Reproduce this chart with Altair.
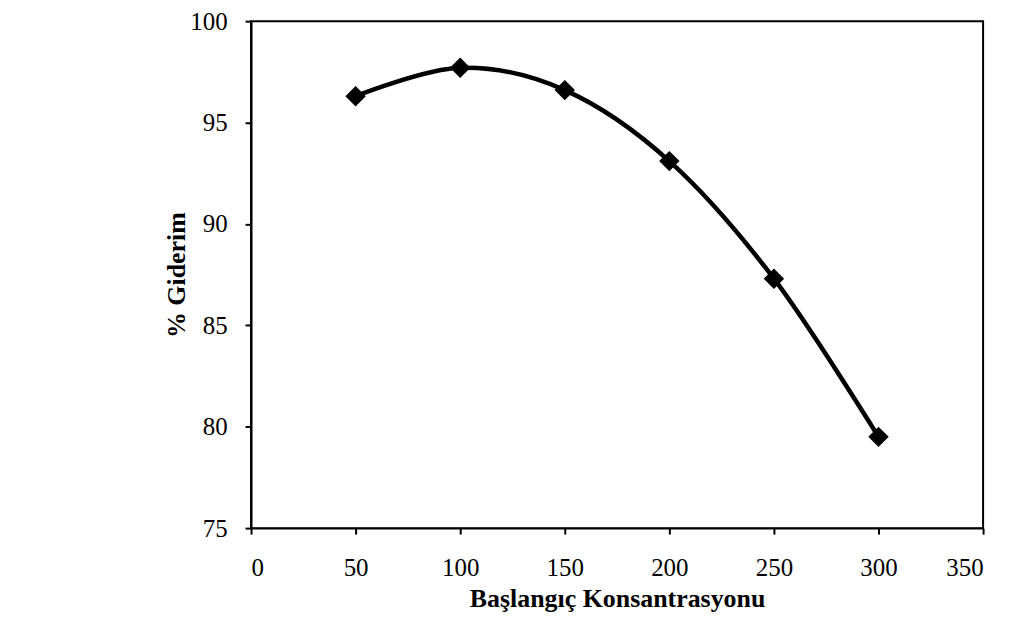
import altair as alt
import pandas as pd

konsantrasyon = [50, 100, 150, 200, 250, 300]
giderim = [96.3, 97.7, 96.6, 93.1, 87.3, 79.5]

df = pd.DataFrame({"x": konsantrasyon, "y": giderim})

FONT = "Liberation Serif"

x_enc = alt.X(
    "x:Q",
    scale=alt.Scale(domain=[0, 350], nice=False, zero=False),
    axis=alt.Axis(
        title="Başlangıç Konsantrasyonu",
        values=[0, 50, 100, 150, 200, 250, 300, 350],
        grid=False,
        domainColor="black",
        domainWidth=2,
        tickColor="black",
        tickWidth=2,
        tickSize=6,
        labelFont=FONT,
        labelFontSize=25,
        labelColor="black",
        labelPadding=22,
        titleFont=FONT,
        titleFontSize=26,
        titleFontWeight="bold",
        titleColor="black",
        titlePadding=5,
    ),
)
y_enc = alt.Y(
    "y:Q",
    scale=alt.Scale(domain=[75, 100], nice=False, zero=False),
    axis=alt.Axis(
        title="% Giderim",
        values=[75, 80, 85, 90, 95, 100],
        grid=False,
        domainColor="black",
        domainWidth=2,
        tickColor="black",
        tickWidth=2,
        tickSize=6,
        labelFont=FONT,
        labelFontSize=25,
        labelColor="black",
        labelPadding=18,
        titleFont=FONT,
        titleFontSize=26,
        titleFontWeight="bold",
        titleColor="black",
        titlePadding=0,
    ),
)

line = alt.Chart(df).mark_line(
    color="black", strokeWidth=4.5, interpolate="cardinal", tension=0
).encode(x=x_enc, y=y_enc)

pts = alt.Chart(df).mark_point(
    shape="diamond", filled=True, color="black", size=420, opacity=1
).encode(x="x:Q", y="y:Q")

chart = (
    alt.layer(line, pts)
    .properties(
        width=735,
        height=509,
        autosize=alt.AutoSizeParams(type="none"),
        padding={"left": 244, "top": 12, "right": 22, "bottom": 84},
        background="white",
    )
    .configure_view(stroke="black", strokeWidth=2)
)

chart.save("out.html", embed_options={"renderer": "svg", "actions": False})
